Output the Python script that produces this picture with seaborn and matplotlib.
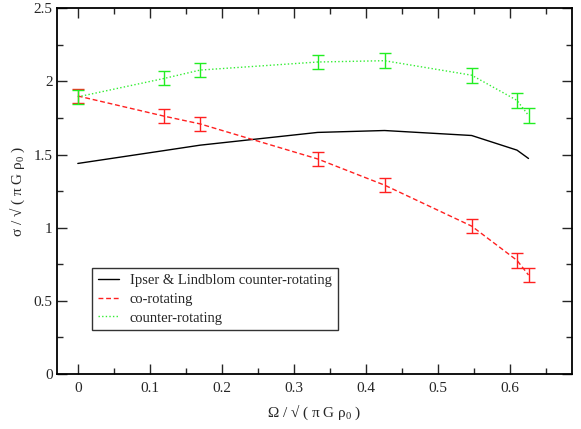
import matplotlib
matplotlib.use("Agg")
import matplotlib.pyplot as plt
import seaborn as sns
import numpy as np
import pandas as pd
from matplotlib.ticker import MultipleLocator

omega = [0.0, 0.12, 0.17, 0.333, 0.426, 0.547, 0.61, 0.626]
ipser = [1.439, 1.527, 1.564, 1.651, 1.664, 1.630, 1.530, 1.473]
co_rot = [1.90, 1.762, 1.709, 1.470, 1.291, 1.011, 0.777, 0.677]
co_err = [0.05, 0.05, 0.05, 0.05, 0.05, 0.05, 0.05, 0.05]
counter_rot = [1.894, 2.020, 2.077, 2.132, 2.141, 2.042, 1.870, 1.767]
counter_err = [0.048, 0.048, 0.048, 0.05, 0.05, 0.05, 0.05, 0.05]

labels = ["Ipser & Lindblom counter-rotating", "co-rotating", "counter-rotating"]

sns.set_style("ticks")
plt.rcParams["font.family"] = ["Liberation Serif", "DejaVu Serif"]
plt.rcParams["mathtext.fontset"] = "custom"
plt.rcParams["mathtext.rm"] = "Liberation Serif"
plt.rcParams["mathtext.it"] = "Liberation Serif"
plt.rcParams["mathtext.bf"] = "Liberation Serif"

fig = plt.figure(figsize=(5.81, 4.29), dpi=100)
ax = fig.add_axes([0.098, 0.128, 0.886, 0.853])

df = pd.DataFrame({"omega": omega, "ipser": ipser, "co": co_rot, "counter": counter_rot})

sns.lineplot(data=df, x="omega", y="ipser", ax=ax, color="black", lw=1.0,
             label=labels[0], sort=False)
sns.lineplot(data=df, x="omega", y="co", ax=ax, color="#ff2020", lw=1.0,
             linestyle=(0, (3.5, 2.0)), label=labels[1], sort=False)
sns.lineplot(data=df, x="omega", y="counter", ax=ax, color="#33ee33", lw=1.0,
             linestyle=(0, (1, 1.6)), label=labels[2], sort=False)

ax.errorbar(omega, co_rot, yerr=co_err, fmt="none", ecolor="#ff2020",
            elinewidth=1.0, capsize=4.5, capthick=1.0)
ax.errorbar(omega, counter_rot, yerr=counter_err, fmt="none", ecolor="#22ee22",
            elinewidth=1.0, capsize=4.5, capthick=1.0)

ax.set_xlim(-0.029, 0.686)
ax.set_ylim(0, 2.5)
ax.xaxis.set_major_locator(MultipleLocator(0.1))
ax.xaxis.set_minor_locator(MultipleLocator(0.05))
ax.yaxis.set_major_locator(MultipleLocator(0.5))
ax.yaxis.set_minor_locator(MultipleLocator(0.25))
ax.set_xticks([0, 0.1, 0.2, 0.3, 0.4, 0.5, 0.6])
ax.set_xticklabels(["0", "0.1", "0.2", "0.3", "0.4", "0.5", "0.6"])
ax.set_yticks([0, 0.5, 1, 1.5, 2, 2.5])
ax.set_yticklabels(["0", "0.5", "1", "1.5", "2", "2.5"])
ax.tick_params(which="both", direction="in", top=True, right=True, width=1.0,
               labelsize=11)
ax.tick_params(axis="x", which="major", pad=6)
ax.tick_params(axis="y", which="major", pad=3)
ax.tick_params(which="major", length=7)
ax.tick_params(which="minor", length=4)
for s in ax.spines.values():
    s.set_linewidth(1.3)
    s.set_color("black")

ax.set_xlabel(r"$\Omega$ / √ ( $\pi$ G $\rho_0$ )", fontsize=11, labelpad=5)
ax.set_ylabel(r"$\sigma$ / √ ( $\pi$ G $\rho_0$ )", fontsize=11, labelpad=5)

leg = ax.legend(loc="upper left", bbox_to_anchor=(0.068, 0.29),
                fontsize=10.5, frameon=True, fancybox=False,
                borderpad=0.4, handlelength=1.45, labelspacing=0.38,
                handletextpad=0.75, borderaxespad=0)
leg.get_frame().set_edgecolor("black")
leg.get_frame().set_linewidth(1.0)

fig.savefig("out.png", dpi=100)
